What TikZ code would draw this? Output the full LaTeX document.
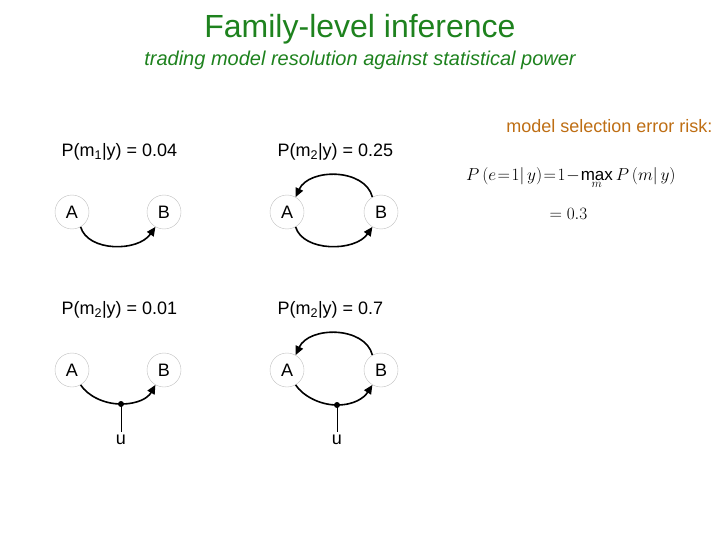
\documentclass[tikz,border=0pt]{standalone}
\usepackage{fontspec}
\setmainfont{Liberation Sans}
\usetikzlibrary{arrows.meta}
\definecolor{tgreen}{RGB}{30,130,30}
\definecolor{torange}{RGB}{190,110,20}
\tikzset{
 var/.style={circle,draw=black!25,minimum size=34pt,inner sep=0pt,font=\fontsize{18}{20}\selectfont},
 edge/.style={line width=1.6pt,-{Triangle[length=9pt,width=8pt]}},
 plain/.style={line width=1.6pt},
 lbl/.style={font=\fontsize{18}{20}\selectfont,anchor=west},
 dotn/.style={circle,fill=black,inner sep=0pt,minimum size=6pt}
}
\begin{document}
\begin{tikzpicture}[x=1pt,y=-1pt]
\useasboundingbox (0,0) rectangle (720,540);
\node[font=\fontsize{32}{36}\selectfont,text=tgreen] (title) at (360,29) {Family-level inference};
\node[font=\itshape\fontsize{20}{24}\selectfont,text=tgreen] (sub) at (360,60) {trading model resolution against statistical power};
\node[font=\fontsize{18}{20}\selectfont,text=torange,anchor=east] (risk) at (716,126) {model selection error risk:};
\node[font=\fontsize{17}{20}\selectfont,anchor=west,inner sep=0pt] (f1) at (466,178) {\medmuskip=1mu\thickmuskip=1.5mu$P\left(e=1\middle|\,y\right)=1-\mathop{\mathrm{max}}\limits_m P\left(m\middle|\,y\right)$};
\node[font=\fontsize{17}{20}\selectfont,anchor=west] (f2) at (546,214) {$=0.3$};
% labels
\node[lbl] (l1) at (58,152) {P(m\textsubscript{1}|y) = 0.04};
\node[lbl] (l2) at (274,152) {P(m\textsubscript{2}|y) = 0.25};
\node[lbl] (l3) at (58,310) {P(m\textsubscript{2}|y) = 0.01};
\node[lbl] (l4) at (274,310) {P(m\textsubscript{2}|y) = 0.7};
% panel 1
\node[var] (A1) at (72,212) {A};
\node[var] (B1) at (164,212) {B};
\draw[edge] (A1.-60) .. controls (88,252) and (138,252) .. (B1.-120);
% panel 2
\node[var] (A2) at (287,212) {A};
\node[var] (B2) at (381,212) {B};
\draw[edge] (A2.-60) .. controls (303,252) and (355,252) .. (B2.-120);
\draw[edge] (B2.120) .. controls (365,168) and (309,168) .. (A2.60);
% panel 3
\node[var] (A3) at (72,370) {A};
\node[var] (B3) at (164,370) {B};
\node[dotn] (d3) at (121,404) {};
\node[font=\fontsize{18}{20}\selectfont] (u3) at (121,440) {u};
\draw[plain] (A3.-60) .. controls (88,396) and (104,404) .. (d3.center);
\draw[edge] (d3.center) .. controls (138,404) and (148,398) .. (B3.-120);
\draw[line width=1pt] (d3.center) -- (u3.north);
% panel 4
\node[var] (A4) at (287,370) {A};
\node[var] (B4) at (381,370) {B};
\node[dotn] (d4) at (337,405) {};
\node[font=\fontsize{18}{20}\selectfont] (u4) at (337,440) {u};
\draw[plain] (A4.-60) .. controls (303,396) and (320,405) .. (d4.center);
\draw[edge] (d4.center) .. controls (354,405) and (364,398) .. (B4.-120);
\draw[edge] (B4.120) .. controls (365,326) and (309,326) .. (A4.60);
\draw[line width=1pt] (d4.center) -- (u4.north);
\end{tikzpicture}
\end{document}
